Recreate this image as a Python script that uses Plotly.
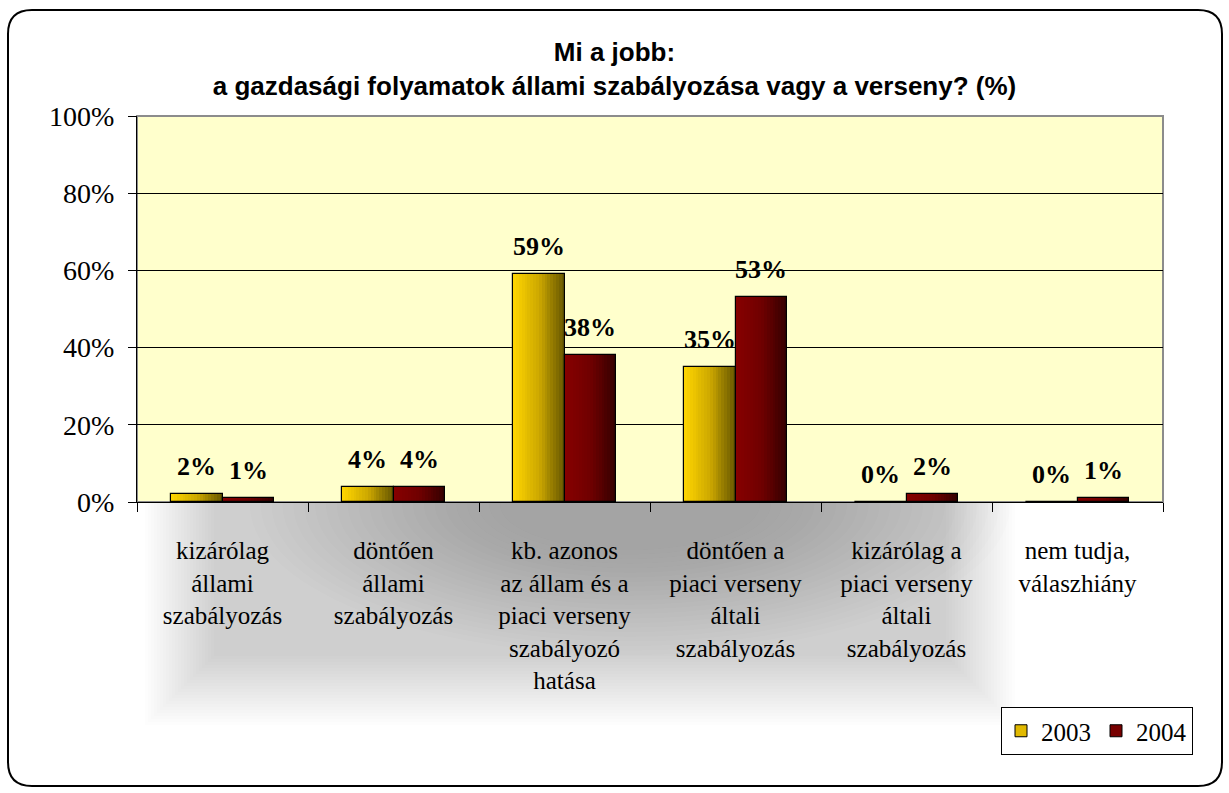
import plotly.graph_objects as go

categories = [
    "kizárólag<br>állami<br>szabályozás",
    "döntően<br>állami<br>szabályozás",
    "kb. azonos<br>az állam és a<br>piaci verseny<br>szabályozó<br>hatása",
    "döntően a<br>piaci verseny<br>általi<br>szabályozás",
    "kizárólag a<br>piaci verseny<br>általi<br>szabályozás",
    "nem tudja,<br>válaszhiány",
]
series_names = ["2003", "2004"]
values_2003 = [2, 4, 59, 35, 0, 0]
values_2004 = [1, 4, 38, 53, 2, 1]
y_ticks = [0, 20, 40, 60, 80, 100]

title_lines = ["Mi a jobb:", "a gazdasági folyamatok állami szabályozása vagy a verseny? (%)"]

# style
W, H = 1229, 793
L, R, T, B = 137, 66, 116, 291
PW, PH = W - L - R, H - T - B
bar_w = 0.30
n_slices = 18
grad = {
    "2003": [(255, 214, 0), (205, 168, 0), (100, 85, 0)],
    "2004": [(135, 0, 0), (112, 0, 0), (52, 0, 0)],
}
legend_color = {"2003": "rgb(225,185,0)", "2004": "rgb(120,0,0)"}
serif = "Liberation Serif, Times New Roman, serif"
sans = "Liberation Sans, Arial, sans-serif"


def lerp_color(stops, t):
    if t <= 0.5:
        a, b, u = stops[0], stops[1], t / 0.5
    else:
        a, b, u = stops[1], stops[2], (t - 0.5) / 0.5
    c = [round(a[i] + (b[i] - a[i]) * u) for i in range(3)]
    return f"rgb({c[0]},{c[1]},{c[2]})"


fig = go.Figure()
series = [("2003", values_2003, -bar_w), ("2004", values_2004, 0.0)]

# legend-only entries
for name, vals, off in series:
    fig.add_trace(go.Bar(
        x=[categories[0]], y=[None], name=name, legendgroup=name,
        marker=dict(color=legend_color[name], line=dict(color="black", width=1)),
        showlegend=True,
    ))

for name, vals, off in series:
    sw = bar_w / n_slices
    for k in range(n_slices):
        t = (k + 0.5) / n_slices
        fig.add_trace(go.Bar(
            x=categories, y=vals, width=sw * 1.1, offset=off + k * sw,
            marker=dict(color=lerp_color(grad[name], t), line=dict(width=0)),
            showlegend=False, name=name, legendgroup=name,
            hoverinfo="skip",
        ))
    fig.add_trace(go.Bar(
        x=categories, y=vals, width=bar_w, offset=off,
        marker=dict(color="rgba(0,0,0,0)", line=dict(color="black", width=1.2)),
        showlegend=False, legendgroup=name, name=name,
    ))

# value labels
for name, vals, off in series:
    for i, v in enumerate(vals):
        fig.add_annotation(
            x=i + off + bar_w / 2, y=v, xref="x", yref="y",
            text=f"<b>{v}%</b>", showarrow=False, yanchor="bottom", yshift=11,
            font=dict(family=serif, size=26, color="black"),
        )


def px(xp):
    return (xp - L) / PW


def py(yp):
    return (H - B - yp) / PH


# soft shadow under the category labels: blurred box + darker core
for k in range(24):
    s = k * 3
    fig.add_shape(
        type="rect", xref="paper", yref="paper", layer="below",
        x0=px(145 + s), x1=px(1015 - s), y0=py(725 - s), y1=py(503),
        fillcolor="rgba(60,60,60,0.009)", line=dict(width=0),
    )
for k in range(24):
    f = k / 23
    rx = 380 - 250 * f
    ry = 150 - 105 * f
    cx, cy = 630, 505
    fig.add_shape(
        type="circle", xref="paper", yref="paper", layer="below",
        x0=px(cx - rx), x1=px(cx + rx), y0=py(cy + ry), y1=py(cy - ry),
        fillcolor="rgba(60,60,60,0.013)", line=dict(width=0),
    )

# plot area fill over the shadow
fig.add_shape(type="rect", xref="paper", yref="paper", x0=0, x1=1, y0=0, y1=1,
              fillcolor="#FFFFCC", line=dict(width=0), layer="below")

# rounded outer frame
x0, x1, y0, y1, r = 8, 1222, 10, 786, 24
path = (
    f"M {px(x0 + r)},{py(y0)} L {px(x1 - r)},{py(y0)} "
    f"Q {px(x1)},{py(y0)} {px(x1)},{py(y0 + r)} "
    f"L {px(x1)},{py(y1 - r)} Q {px(x1)},{py(y1)} {px(x1 - r)},{py(y1)} "
    f"L {px(x0 + r)},{py(y1)} Q {px(x0)},{py(y1)} {px(x0)},{py(y1 - r)} "
    f"L {px(x0)},{py(y0 + r)} Q {px(x0)},{py(y0)} {px(x0 + r)},{py(y0)} Z"
)
fig.add_shape(type="path", path=path, xref="paper", yref="paper",
              line=dict(color="black", width=2), layer="below")

# plot-area border (grey top/right)
fig.add_shape(type="rect", xref="paper", yref="paper", x0=0, x1=1, y0=0, y1=1,
              line=dict(color="#8c8c8c", width=2), layer="below")

fig.update_layout(
    width=W, height=H,
    margin=dict(l=L, r=R, t=T, b=B, autoexpand=False),
    paper_bgcolor="white", plot_bgcolor="#FFFFCC",
    barmode="overlay", bargap=0,
    title=dict(
        text="<b>" + "<br>".join(title_lines) + "</b>",
        x=0.5, xref="container", xanchor="center",
        y=1 - 61 / H, yref="container", yanchor="middle",
        font=dict(family=sans, size=26, color="black"),
    ),
    showlegend=True,
    legend=dict(
        orientation="h", x=px(1193), xanchor="right", y=py(755), yanchor="bottom",
        bgcolor="white", bordercolor="black", borderwidth=1,
        font=dict(family=serif, size=25, color="black"),
        itemwidth=30, tracegroupgap=0,
    ),
    xaxis=dict(
        type="category", categoryorder="array", categoryarray=categories,
        range=[-0.5, len(categories) - 0.5],
        showline=True, linecolor="black", linewidth=1,
        ticks="outside", tickson="boundaries", ticklen=9, tickcolor="black",
        ticklabelstandoff=26, showgrid=False,
        tickfont=dict(family=serif, size=25, color="black"),
    ),
    yaxis=dict(
        range=[0, 100], tickvals=y_ticks, ticktext=[f"{v}%" for v in y_ticks],
        showline=True, linecolor="black", linewidth=1,
        ticks="outside", ticklen=8, tickcolor="black",
        showgrid=True, gridcolor="black", gridwidth=1, zeroline=False,
        ticklabelstandoff=8,
        tickfont=dict(family=serif, size=28, color="black"),
    ),
)

fig.write_html(
    "out.html",
    config={"displayModeBar": False},
    post_script="document.body.style.margin='0px';document.body.style.overflow='hidden';",
)
